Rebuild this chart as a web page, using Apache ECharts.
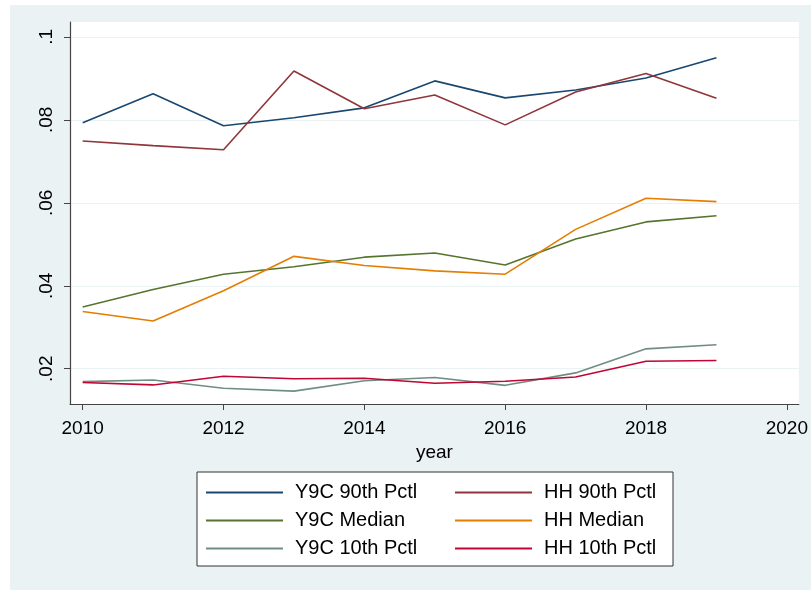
<!DOCTYPE html>
<html>
<head>
<meta charset="utf-8">
<script src="https://cdn.jsdelivr.net/npm/echarts@6/dist/echarts.min.js"></script>
<style>
  html, body { margin: 0; padding: 0; background: #fff; }
  #chart { width: 811px; height: 590px; }
</style>
</head>
<body>
<div id="chart"></div>
<script>
  var years = [2010, 2011, 2012, 2013, 2014, 2015, 2016, 2017, 2018, 2019]
  var xTicks = [2010, 2012, 2014, 2016, 2018, 2020]
  var yTicks = [0.02, 0.04, 0.06, 0.08, 0.1]

  var y9c90 = [0.0793, 0.0863, 0.0786, 0.0805, 0.0829, 0.0894, 0.0853, 0.0872, 0.0901, 0.0950]
  var hh90 = [0.0749, 0.0738, 0.0728, 0.0918, 0.0827, 0.0860, 0.0788, 0.0867, 0.0912, 0.0852]
  var y9cMed = [0.0349, 0.0391, 0.0428, 0.0446, 0.0469, 0.0479, 0.0450, 0.0513, 0.0554, 0.0569]
  var hhMed = [0.0338, 0.0315, 0.0388, 0.0471, 0.0449, 0.0436, 0.0428, 0.0536, 0.0611, 0.0603]
  var y9c10 = [0.0169, 0.0173, 0.0153, 0.0146, 0.0171, 0.0179, 0.0160, 0.0190, 0.0248, 0.0258]
  var hh10 = [0.0167, 0.0161, 0.0182, 0.0176, 0.0177, 0.0165, 0.0170, 0.0180, 0.0218, 0.0220]

  var names = ['Y9C 90th Pctl', 'HH 90th Pctl', 'Y9C Median', 'HH Median', 'Y9C 10th Pctl', 'HH 10th Pctl']
  var colors = ['#1a476f', '#90353b', '#55752f', '#e37e00', '#6e8e84', '#c10534']
  var values = [y9c90, hh90, y9cMed, hhMed, y9c10, hh10]

  var font = 'Liberation Sans, Arial, Helvetica, sans-serif'

  function pairs (vals) {
    var res = []
    for (var i = 0; i < years.length; i++) {
      res.push([years[i], vals[i]])
    }
    return res
  }

  var series = []
  for (var i = 0; i < names.length; i++) {
    series.push({
      name: names[i],
      type: 'line',
      symbol: 'none',
      animation: false,
      lineStyle: { color: colors[i], width: 1.6 },
      itemStyle: { color: colors[i] },
      data: pairs(values[i])
    })
  }

  function legendCol (data, left) {
    return {
      orient: 'vertical',
      left: left,
      top: 477,
      icon: 'rect',
      itemWidth: 77,
      itemHeight: 2,
      itemGap: 7,
      selectedMode: false,
      textStyle: { fontFamily: font, fontSize: 20, lineHeight: 21, color: '#000', padding: [0, 0, 0, 7] },
      data: data
    }
  }

  var chart = echarts.init(document.getElementById('chart'))
  chart.setOption({
    backgroundColor: '#fff',
    animation: false,
    graphic: [
      { type: 'rect', z: -10, silent: true, shape: { x: 10, y: 5, width: 801, height: 585 }, style: { fill: '#eaf2f3' } },
      { type: 'rect', z: -5, silent: true, shape: { x: 197, y: 472, width: 476, height: 94 }, style: { fill: '#fff', stroke: '#333', lineWidth: 1 } }
    ],
    grid: {
      left: 70, right: 11, top: 22, bottom: 186,
      show: true, backgroundColor: '#fff', borderWidth: 0
    },
    xAxis: {
      type: 'value',
      min: 2009.82,
      max: 2020.17,
      name: 'year',
      nameLocation: 'middle',
      nameGap: 37,
      nameTextStyle: { fontFamily: font, fontSize: 19, color: '#000' },
      axisLine: { show: true, lineStyle: { color: '#444', width: 1.2 } },
      axisTick: { show: true, length: 6, customValues: xTicks, lineStyle: { color: '#444' } },
      axisLabel: {
        customValues: xTicks,
        margin: 15,
        fontFamily: font,
        fontSize: 19,
        color: '#000',
        formatter: function (v) { return String(v) }
      },
      splitLine: { show: false }
    },
    yAxis: {
      type: 'value',
      min: 0.0115,
      max: 0.1036,
      axisLine: { show: true, lineStyle: { color: '#444', width: 1.2 } },
      axisTick: { show: true, length: 6, customValues: yTicks, lineStyle: { color: '#444' } },
      axisLabel: {
        customValues: yTicks,
        rotate: 90,
        margin: 14,
        fontFamily: font,
        fontSize: 19,
        color: '#000',
        formatter: function (v) { return String(+v.toFixed(2)).replace(/^0/, '') }
      },
      splitLine: { show: true, lineStyle: { color: '#eaf2f3', width: 1.2 } }
    },
    legend: [
      legendCol([names[0], names[2], names[4]], 201),
      legendCol([names[1], names[3], names[5]], 450)
    ],
    series: series
  })
</script>
</body>
</html>
